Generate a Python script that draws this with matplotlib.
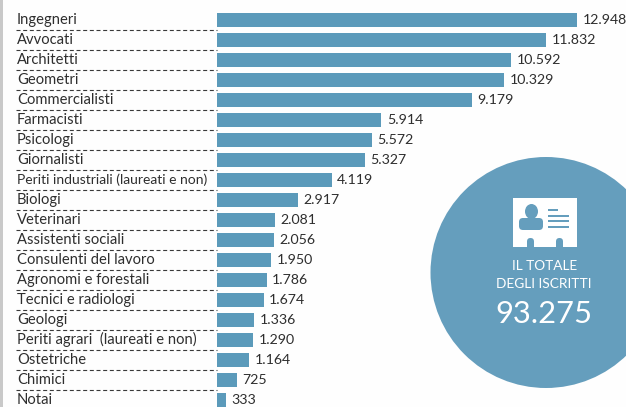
import matplotlib
matplotlib.use('Agg')
import matplotlib.pyplot as plt
from matplotlib.patches import Circle, Ellipse, FancyBboxPatch, Rectangle

plt.rcParams['font.family'] = ['Lato', 'DejaVu Sans']

categories = ['Ingegneri', 'Avvocati', 'Architetti', 'Geometri', 'Commercialisti',
              'Farmacisti', 'Psicologi', 'Giornalisti',
              'Periti industriali (laureati e non)', 'Biologi', 'Veterinari',
              'Assistenti sociali', 'Consulenti del lavoro', 'Agronomi e forestali',
              'Tecnici e radiologi', 'Geologi', 'Periti agrari  (laureati e non)',
              'Ostetriche', 'Chimici', 'Notai']
values = [12948, 11832, 10592, 10329, 9179, 5914, 5572, 5327, 4119, 2917,
          2081, 2056, 1950, 1786, 1674, 1336, 1290, 1164, 725, 333]
total_label = '93.275'

W, H = 626, 407
BAR = '#5b9aba'
DISC = '#659ebd'
INK = '#2e2e2e'

fig = plt.figure(figsize=(W / 100, H / 100), dpi=100, facecolor='#fefefe')

# pixel-space layer for the decoration
bg = fig.add_axes([0, 0, 1, 1])
bg.set_xlim(0, W)
bg.set_ylim(H, 0)
bg.axis('off')
bg.add_patch(Rectangle((0, 0), 2.5, H, color='#c9c9c9', lw=0))

# bars: row spacing 20px, first row centred at y=20
ax = fig.add_axes([217 / W, 0, (W - 217) / W, 1], facecolor='none')
ax.set_xlim(0, (W - 217) / (360 / 12948))
ax.set_ylim((H - 20) / 20, -1)
ax.axis('off')
ax.barh(range(len(categories)), values, height=0.7, color=BAR, linewidth=0)

for i, (name, v) in enumerate(zip(categories, values)):
    y_px = 20 + 20 * i
    # the longest name has to stop short of its bar
    size = 10.0 if len(name) > 32 else 10.6
    ax.text(-200 / (360 / 12948), i - 0.02, name, fontsize=size, color=INK,
            ha='left', va='center', clip_on=False)
    if i < len(categories) - 1:
        bg.plot([16, 217], [y_px + 10, y_px + 10], color='#3a3a3a', lw=0.8,
                dashes=(3.6, 2.4))
    label = f'{v:,}'.replace(',', '.')
    ax.annotate(label, (v, i), xytext=(5.5, -0.5), textcoords='offset pixels',
                fontsize=10.2, color=INK, ha='left', va='center',
                annotation_clip=False)

# badge with the total
top = fig.add_axes([0, 0, 1, 1], facecolor='none')
top.set_xlim(0, W)
top.set_ylim(H, 0)
top.axis('off')
top.add_patch(Circle((546, 272.5), 115.5, color=DISC, lw=0))

# id card icon
top.add_patch(Rectangle((513, 198), 64, 49, color='white', lw=0))
for nx in (530.5, 559.5):
    top.add_patch(FancyBboxPatch((nx - 3.5, 238), 7, 12, boxstyle='round,pad=0,rounding_size=3.5',
                                 color=DISC, lw=0))
top.add_patch(Ellipse((531.5, 211.5), 13, 15, color=DISC, lw=0))
top.add_patch(FancyBboxPatch((519, 218), 24, 12, boxstyle='round,pad=0,rounding_size=4',
                             color=DISC, lw=0))
for ly, length in [(209, 10), (215, 21), (220, 21), (226, 21)]:
    top.add_patch(Rectangle((548, ly), length, 2, color=DISC, lw=0))

top.text(545, 265.5, 'IL TOTALE', fontsize=9.8, color='white', ha='center', va='center')
top.text(544, 284.5, 'DEGLI ISCRITTI', fontsize=9.9, color='white', ha='center', va='center')
top.text(544, 314, total_label, fontsize=22.2, color='white', ha='center', va='center')

fig.savefig('out.png', dpi=100, facecolor=fig.get_facecolor())
